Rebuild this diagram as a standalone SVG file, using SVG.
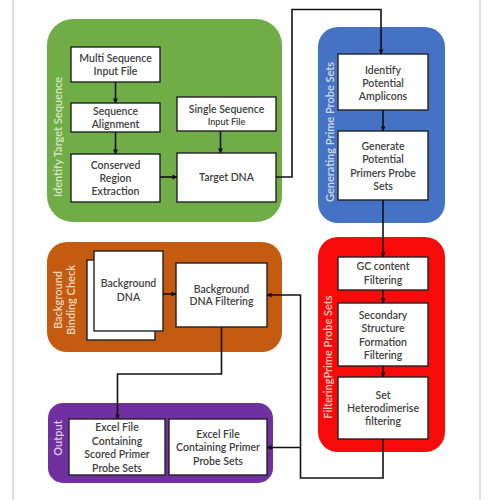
<svg xmlns="http://www.w3.org/2000/svg" width="500" height="500" viewBox="0 0 500 500">
<defs>
<marker id="ah" viewBox="0 0 6 6" refX="5.5" refY="3" markerWidth="5" markerHeight="5" orient="auto" markerUnits="userSpaceOnUse">
<path d="M0,0 L6,3 L0,6 z" fill="#111"/>
</marker>
<style>
.box{fill:#fff;stroke:#222;stroke-width:1.4}
.t{font-family:Lato,"Liberation Sans",Arial,sans-serif;font-size:10.5px;fill:#404040;text-anchor:middle;font-weight:600}
.lbl{font-family:Lato,"Liberation Sans",Arial,sans-serif;font-size:11px;fill:#f0f4ea;text-anchor:middle;font-weight:600;opacity:0.8}
.c{fill:none;stroke:#111;stroke-width:1.6}
.frame{stroke:#bdbdbd;stroke-width:1}
</style>
</defs>
<rect width="500" height="500" fill="#fff"/>
<line class="frame" x1="13" y1="0" x2="13" y2="500"/>
<line class="frame" x1="480" y1="0" x2="480" y2="500"/>

<g id="identify-target-sequence">
<rect x="47" y="19" width="235" height="203" rx="26" fill="#70ad47"/>
<text class="lbl" transform="translate(61.5,137) rotate(-90)">Identify Target Sequence</text>
</g>
<g id="generating-prime-probe-sets">
<rect x="318" y="27" width="127" height="196" rx="20" fill="#4472c4"/>
<text class="lbl" transform="translate(333.5,132) rotate(-90)">Generating Prime Probe Sets</text>
</g>
<g id="filtering-prime-probe-sets">
<rect x="318" y="237" width="127" height="215" rx="20" fill="#f80a0a"/>
<text class="lbl" transform="translate(331.5,357) rotate(-90)">FilteringPrime Probe Sets</text>
</g>
<g id="background-binding-check">
<rect x="47" y="242" width="235" height="110" rx="20" fill="#c55a11"/>
<text class="lbl" transform="translate(61.5,300) rotate(-90)">Background</text>
<text class="lbl" transform="translate(74.5,300) rotate(-90)">Binding Check</text>
</g>
<g id="output">
<rect x="48" y="403" width="225" height="80" rx="15" fill="#7030a0"/>
<text class="lbl" transform="translate(61.5,438) rotate(-90)">Output</text>
</g>

<g id="multi-sequence-input-file">
<rect class="box" x="71" y="47" width="89" height="35"/>
<text class="t" x="115.5" y="61.5">Multi Sequence</text>
<text class="t" x="115.5" y="75">Input File</text>
</g>
<g id="sequence-alignment">
<rect class="box" x="71" y="103" width="89" height="29"/>
<text class="t" x="115.5" y="115">Sequence</text>
<text class="t" x="115.5" y="127.5">Alignment</text>
</g>
<g id="conserved-region-extraction">
<rect class="box" x="71" y="154" width="89" height="48"/>
<text class="t" x="115.5" y="168.5">Conserved</text>
<text class="t" x="115.5" y="181.5">Region</text>
<text class="t" x="115.5" y="195">Extraction</text>
</g>
<g id="single-sequence-input-file">
<rect class="box" x="177" y="97" width="99" height="34"/>
<text class="t" x="226.5" y="112.5">Single Sequence</text>
<text class="t" x="226.5" y="124.5" style="font-size:9px">Input File</text>
</g>
<g id="target-dna">
<rect class="box" x="177" y="153" width="99" height="49"/>
<text class="t" x="226.5" y="181">Target DNA</text>
</g>
<g id="identify-potential-amplicons">
<rect class="box" x="338" y="54" width="90" height="56"/>
<text class="t" x="383" y="73.5">Identify</text>
<text class="t" x="383" y="86.5">Potential</text>
<text class="t" x="383" y="100">Amplicons</text>
</g>
<g id="generate-potential-primers-probe-sets">
<rect class="box" x="338" y="131" width="90" height="69"/>
<text class="t" x="383" y="150">Generate</text>
<text class="t" x="383" y="163">Potential</text>
<text class="t" x="383" y="176.5">Primers Probe</text>
<text class="t" x="383" y="190">Sets</text>
</g>
<g id="gc-content-filtering">
<rect class="box" x="338" y="257" width="90" height="33"/>
<text class="t" x="383" y="270">GC content</text>
<text class="t" x="383" y="283.5">Filtering</text>
</g>
<g id="secondary-structure-formation-filtering">
<rect class="box" x="338" y="303" width="90" height="63"/>
<text class="t" x="383" y="318.5">Secondary</text>
<text class="t" x="383" y="332">Structure</text>
<text class="t" x="383" y="345.5">Formation</text>
<text class="t" x="383" y="359">Filtering</text>
</g>
<g id="set-heterodimerise-filtering">
<rect class="box" x="338" y="377" width="90" height="62"/>
<text class="t" x="383" y="398.5">Set</text>
<text class="t" x="383" y="411.5">Heterodimerise</text>
<text class="t" x="383" y="425">filtering</text>
</g>
<g id="background-dna">
<rect class="box" x="87" y="260" width="68" height="80"/>
<rect class="box" x="94" y="251" width="69" height="80"/>
<text class="t" x="128.5" y="286.5">Background</text>
<text class="t" x="128.5" y="301">DNA</text>
</g>
<g id="background-dna-filtering">
<rect class="box" x="176" y="263" width="91" height="64"/>
<text class="t" x="221.5" y="292.5">Background</text>
<text class="t" x="221.5" y="305">DNA Filtering</text>
</g>
<g id="excel-scored">
<rect class="box" x="69" y="419" width="96" height="56"/>
<text class="t" x="117" y="430.5">Excel File</text>
<text class="t" x="117" y="444.5">Containing</text>
<text class="t" x="117" y="457.5">Scored Primer</text>
<text class="t" x="117" y="471.5">Probe Sets</text>
</g>
<g id="excel-primer">
<rect class="box" x="169" y="419" width="98" height="56"/>
<text class="t" x="218" y="437.5">Excel File</text>
<text class="t" x="218" y="451">Containing Primer</text>
<text class="t" x="218" y="465">Probe Sets</text>
</g>

<g id="connectors">
<path class="c" d="M115.5,82 V103" marker-end="url(#ah)"/>
<path class="c" d="M115.5,132 V154" marker-end="url(#ah)"/>
<path class="c" d="M220.5,131 V153" marker-end="url(#ah)"/>
<path class="c" d="M160,177 H177" marker-end="url(#ah)"/>
<path class="c" d="M276,177 H292 V9.5 H381 V54" marker-end="url(#ah)"/>
<path class="c" d="M383,110 V131" marker-end="url(#ah)"/>
<path class="c" d="M383,200 V257" marker-end="url(#ah)"/>
<path class="c" d="M383,290 V303" marker-end="url(#ah)"/>
<path class="c" d="M383,366 V377" marker-end="url(#ah)"/>
<path class="c" d="M383,439 V478 H300.5 V295 H267" marker-end="url(#ah)"/>
<path class="c" d="M300.5,447.5 H267" marker-end="url(#ah)"/>
<path class="c" d="M163,294 H176" marker-end="url(#ah)"/>
<path class="c" d="M221.5,327 V374 H117.5 V419" marker-end="url(#ah)"/>
</g>
</svg>
